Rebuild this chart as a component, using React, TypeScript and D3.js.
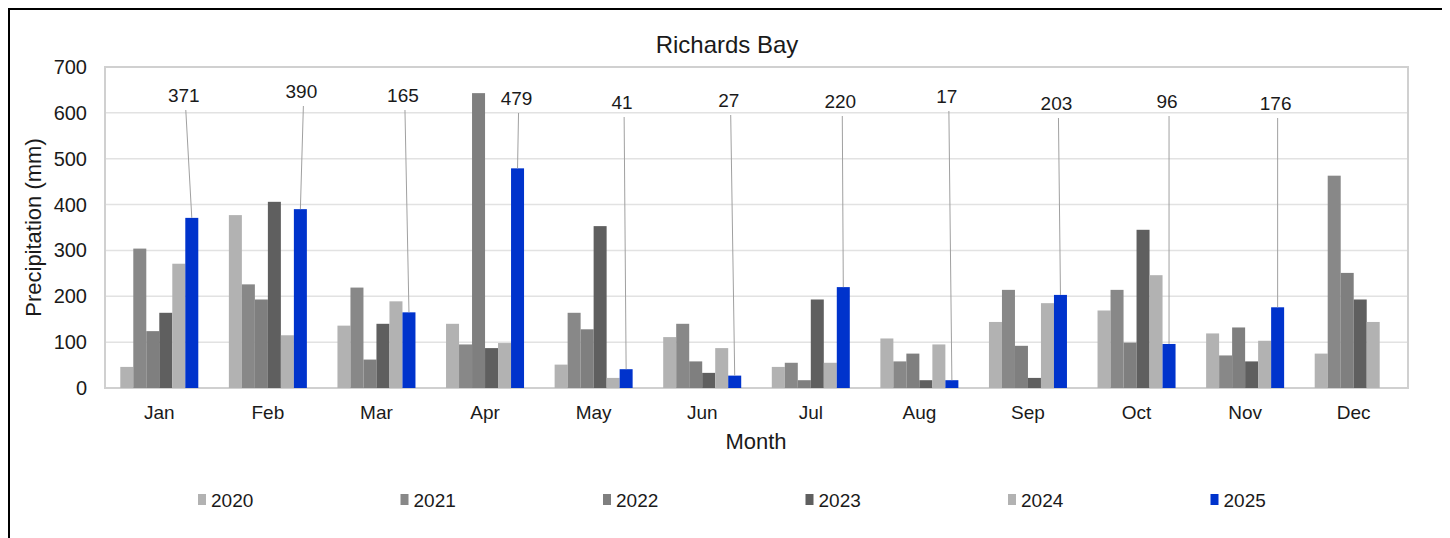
import React from "react";
import * as d3 from "d3";

const months = ["Jan", "Feb", "Mar", "Apr", "May", "Jun", "Jul", "Aug", "Sep", "Oct", "Nov", "Dec"];
const years = ["2020", "2021", "2022", "2023", "2024", "2025"];
const v2020 = [46, 377, 136, 140, 51, 111, 46, 108, 144, 169, 119, 75];
const v2021 = [304, 226, 219, 95, 164, 140, 55, 58, 214, 214, 71, 463];
const v2022 = [124, 193, 62, 643, 128, 58, 17, 75, 92, 99, 132, 251];
const v2023 = [164, 406, 140, 87, 353, 33, 193, 17, 22, 345, 58, 193];
const v2024 = [271, 115, 189, 98, 22, 87, 55, 95, 185, 246, 103, 144];
const v2025: (number | null)[] = [371, 390, 165, 479, 41, 27, 220, 17, 203, 96, 176, null];
const yTicks = [0, 100, 200, 300, 400, 500, 600, 700];

const seriesValues = [v2020, v2021, v2022, v2023, v2024, v2025];
const colors = ["#b2b2b2", "#888888", "#7f7f7f", "#5f5f5f", "#b2b2b2", "#0033cc"];

// callout placement (px below plot top for baseline, px shift of label from bar centre)
const calloutDy = [35, 31, 35, 38, 42, 40, 41, 36, 43, 41, 43];
const calloutDx = [-8, 1, -6, -1, -4, -6, -3, -5, -4, -2, -2];

const FONT = "'Liberation Sans', Arial, sans-serif";
const TXT = "#1a1a1a";

export default function App() {
  const left = 105, right = 1408, top = 67, bottom = 388;
  const x0 = d3.scaleBand<string>().domain(months).range([left, right]).paddingInner(0.2816).paddingOuter(0.1408);
  const x1 = d3.scaleBand<string>().domain(years).range([0, x0.bandwidth()]);
  const y = d3.scaleLinear().domain([0, 700]).range([bottom, top]);

  return (
    <svg width={1442} height={530} style={{ display: "block" }}>
      <g transform="translate(-8,-8)">
        <rect x={0} y={0} width={1450} height={538} fill="#fff" />
        <rect x={9} y={9} width={1437} height={560} fill="#fff" stroke="#000" strokeWidth={2} />
        <text x={727} y={53} textAnchor="middle" fontFamily={FONT} fontSize={24} fill={TXT}>Richards Bay</text>

        {yTicks.slice(1, -1).map((t) => (
          <line key={t} x1={left} x2={right} y1={y(t)} y2={y(t)} stroke="#e2e2e2" strokeWidth={1.5} />
        ))}
        <rect x={left} y={top} width={right - left} height={bottom - top} fill="none" stroke="#d0d0d0" strokeWidth={2} />

        {yTicks.map((t) => (
          <text key={t} x={87} y={y(t) + 7} textAnchor="end" fontFamily={FONT} fontSize={20} fill={TXT}>{t}</text>
        ))}
        {months.map((m) => (
          <text key={m} x={(x0(m) as number) + x0.bandwidth() / 2} y={419} textAnchor="middle" fontFamily={FONT} fontSize={19} fill={TXT}>{m}</text>
        ))}
        <text x={756} y={449} textAnchor="middle" fontFamily={FONT} fontSize={22} fill={TXT}>Month</text>
        <text transform={`translate(41,${(top + bottom) / 2}) rotate(-90)`} textAnchor="middle" fontFamily={FONT} fontSize={22} fill={TXT}>Precipitation (mm)</text>

        {seriesValues.map((vals, si) =>
          months.map((m, mi) => {
            const v = vals[mi];
            if (v == null) return null;
            const bx = (x0(m) as number) + (x1(years[si]) as number);
            return <rect key={`${si}-${mi}`} x={bx} y={y(v)} width={x1.bandwidth()} height={y(0) - y(v)} fill={colors[si]} />;
          })
        )}

        {months.map((m, mi) => {
          const v = v2025[mi];
          if (v == null) return null;
          const cx = (x0(m) as number) + (x1("2025") as number) + x1.bandwidth() / 2;
          const lx = cx + calloutDx[mi];
          const ly = top + calloutDy[mi];
          return (
            <g key={`c-${m}`}>
              <line x1={lx + 2} y1={ly + 8} x2={cx} y2={y(v)} stroke="#a0a0a0" strokeWidth={1} />
              <text x={lx} y={ly} textAnchor="middle" fontFamily={FONT} fontSize={19} fill={TXT}>{v}</text>
            </g>
          );
        })}

        {years.map((yr, i) => {
          const lx = 198 + i * 202.5;
          return (
            <g key={yr}>
              <rect x={lx} y={494} width={8} height={11} fill={colors[i]} />
              <text x={lx + 13} y={507} fontFamily={FONT} fontSize={19} fill={TXT}>{yr}</text>
            </g>
          );
        })}
      </g>
    </svg>
  );
}
